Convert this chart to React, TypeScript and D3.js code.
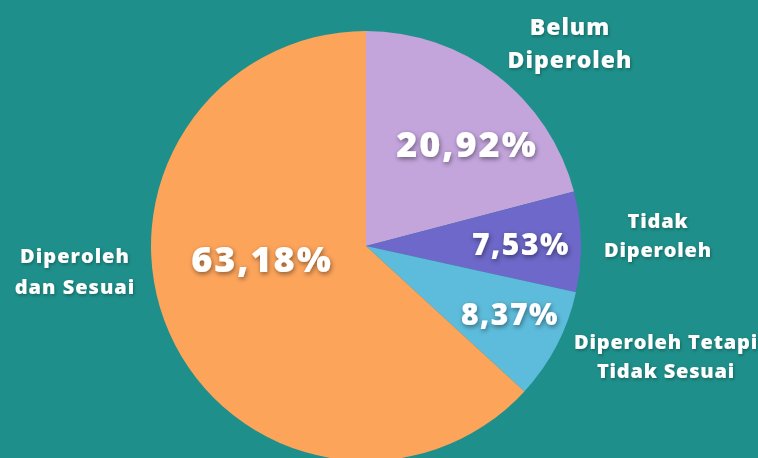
import React from "react";
import * as d3 from "d3";

const categories = [
  "Belum Diperoleh",
  "Tidak Diperoleh",
  "Diperoleh Tetapi Tidak Sesuai",
  "Diperoleh dan Sesuai",
];
const values = [20.92, 7.53, 8.37, 63.18];
const labelLines = [
  ["Belum", "Diperoleh"],
  ["Tidak", "Diperoleh"],
  ["Diperoleh Tetapi", "Tidak Sesuai"],
  ["Diperoleh", "dan Sesuai"],
];
const colors = ["#c3a5dc", "#6d68c9", "#5dbcdb", "#fda45b"];

// layout (pixels)
const W = 758;
const H = 458;
const CX = 366;
const CY = 246;
const R = 215;
const pctLayout = [
  { x: 467, y: 157, size: 36, ls: 2 },
  { x: 521, y: 255, size: 30, ls: 1.5 },
  { x: 510, y: 325, size: 30, ls: 1.5 },
  { x: 262, y: 272, size: 36, ls: 2 },
];
const nameLayout = [
  { x: 570, y: 35, lh: 33, size: 23, ls: 1 },
  { x: 658, y: 228, lh: 29, size: 20, ls: 0.8 },
  { x: 666, y: 349, lh: 29, size: 20, ls: 0.8 },
  { x: 75, y: 263, lh: 31, size: 20, ls: 1 },
];

const FONT = "'Open Sans', 'Noto Sans', sans-serif";

export default function App() {
  const pie = d3
    .pie<number>()
    .sort(null)
    .value((d) => d);
  const arcs = pie(values);
  const arc = d3.arc<d3.PieArcDatum<number>>().innerRadius(0).outerRadius(R);
  const fmt = (v: number) => v.toFixed(2).replace(".", ",") + "%";

  return (
    <div style={{ position: "fixed", left: 0, top: 0, width: W, height: H }}>
      <svg width={W} height={H} style={{ display: "block" }}>
        <defs>
          <filter id="sh" x="-20%" y="-40%" width="140%" height="180%">
            <feDropShadow dx="1" dy="2" stdDeviation="2.5" floodColor="#000" floodOpacity="0.45" />
          </filter>
          <filter id="sh2" x="-20%" y="-40%" width="140%" height="180%">
            <feDropShadow dx="1" dy="1.5" stdDeviation="1.5" floodColor="#000" floodOpacity="0.3" />
          </filter>
        </defs>
        <rect width={W} height={H} fill="#1e8f8a" />
        <g transform={`translate(${CX},${CY})`}>
          {arcs.map((a, i) => (
            <path key={categories[i]} d={arc(a) || ""} fill={colors[i]} />
          ))}
        </g>
        {values.map((v, i) => (
          <text
            key={"p" + i}
            x={pctLayout[i].x}
            y={pctLayout[i].y}
            textAnchor="middle"
            fill="#ffffff"
            fontFamily={FONT}
            fontWeight={800}
            fontSize={pctLayout[i].size}
            letterSpacing={pctLayout[i].ls}
            filter="url(#sh)"
          >
            {fmt(v)}
          </text>
        ))}
        {labelLines.map((lines, i) => (
          <text
            key={"n" + i}
            textAnchor="middle"
            fill="#ffffff"
            fontFamily={FONT}
            fontWeight={800}
            fontSize={nameLayout[i].size}
            letterSpacing={nameLayout[i].ls}
            filter="url(#sh2)"
          >
            {lines.map((l, j) => (
              <tspan key={j} x={nameLayout[i].x} y={nameLayout[i].y + j * nameLayout[i].lh}>
                {l}
              </tspan>
            ))}
          </text>
        ))}
      </svg>
    </div>
  );
}
